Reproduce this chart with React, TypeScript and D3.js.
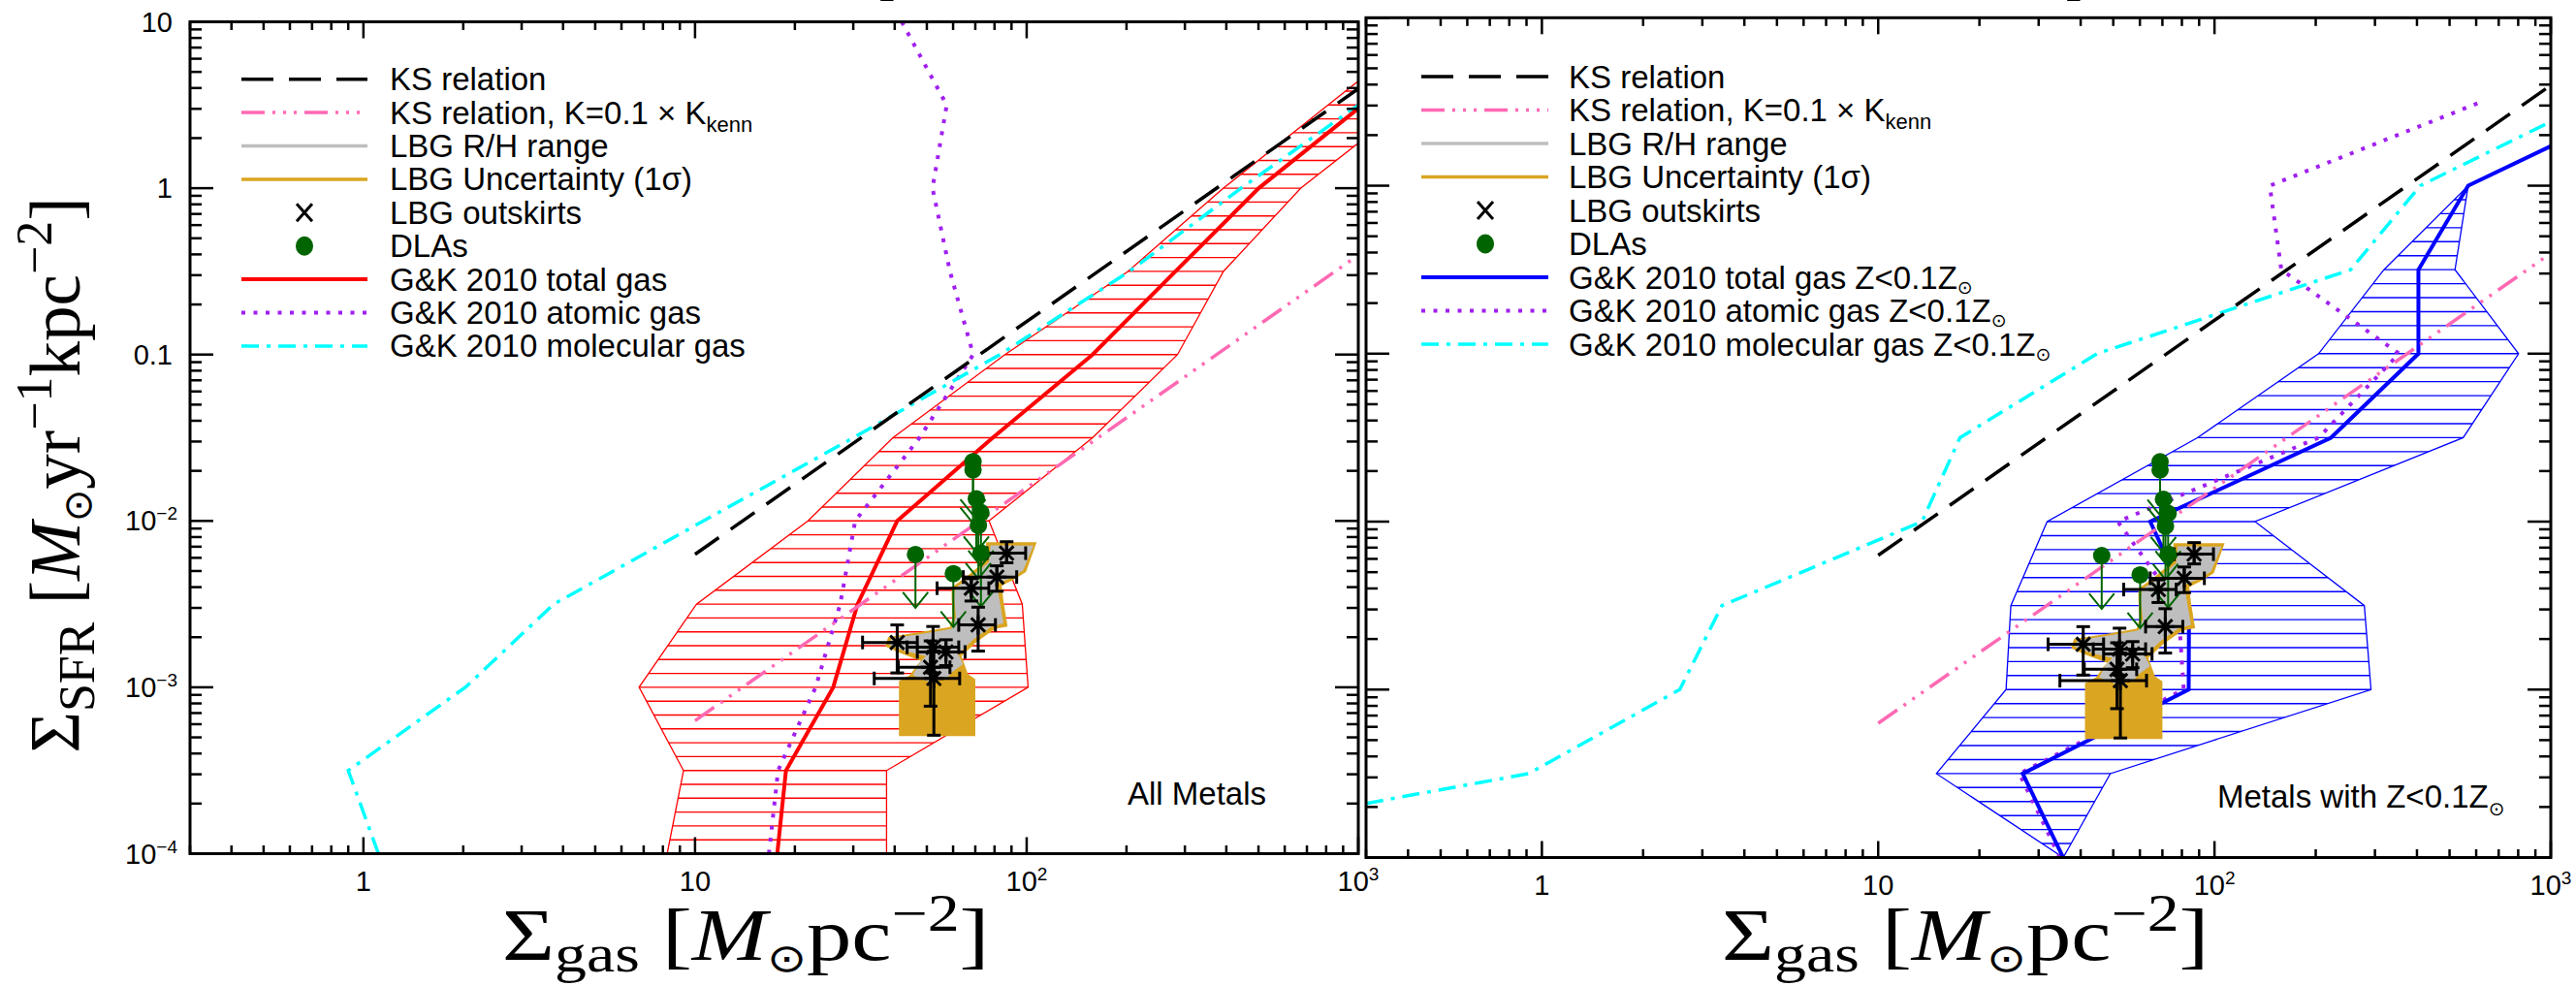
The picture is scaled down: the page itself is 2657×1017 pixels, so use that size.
import React from "react";
import * as d3 from "d3";

// ---------- axes ----------
const gasDomain: [number, number] = [0.3, 1000];
const sfrDomain: [number, number] = [1e-4, 10];
const gasTickValues = [1, 10, 100, 1000];
const gasTickText = ["1", "10", "10", "10"];
const gasTickExp = ["", "", "2", "3"];
const sfrTickValues = [1e-4, 1e-3, 1e-2, 0.1, 1, 10];
const sfrTickText = ["10", "10", "10", "0.1", "1", "10"];
const sfrTickExp = ["−4", "−3", "−2", "", "", ""];

// ---------- Kennicutt–Schmidt relation (end points) ----------
const ksGas = [10, 1000];
const ksSfr = [6.3e-3, 3.96];
const ksSfrTenth = [6.3e-4, 0.396];

// ---------- Gnedin & Kravtsov 2010 models, all metallicities ----------
const gkSfrSteps = [1e-4, 3.16e-4, 1e-3, 3.16e-3, 1e-2, 3.16e-2, 0.1, 0.316, 1, 3.16, 10];
const allTotalGas = [17.7, 18.8, 26.1, 30.9, 40.7, 79, 158, 281, 501, 1030];
const allAtomicGas = [16.7, 17.8, 23.1, 27.4, 30.4, 47.5, 69, 58.7, 52, 57.4, 42];
const allMolecularGas = [1.11, 0.9, 2.03, 3.75, 10.6, 30, 83, 204, 443, 1000];
const allRangeLow = [8.24, 9.23, 6.78, 10.1, 21.9, 39.5, 86, 202, 392, 811, 1680];
const allRangeHigh = [37.8, 37.8, 101, 97, 77, 158, 285, 392, 671, 1400, 2500];

// ---------- Gnedin & Kravtsov 2010 models, Z < 0.1 Zsun ----------
const lowTotalGas = [35.5, 26.9, 83.8, 84, 64.4, 222, 404, 404, 568, 1890];
const lowAtomicGas = [34.7, 26.3, 81, 78, 51.6, 204, 354, 158, 146, 622];
const lowMolecularGas = [0.3, 0.914, 2.57, 3.43, 13.5, 17.5, 44.8, 254, 409, 1320];
const lowMolecularSfr = [2.1e-4, 3.16e-4, 1e-3, 3.16e-3, 1e-2, 3.16e-2, 0.1, 0.316, 1, 3.16];
const lowRangeLow = [35.5, 14.9, 24.0, 24.8, 31.8, 89, 204, 319, 568];
const lowRangeHigh = [35.5, 49, 292, 279, 132, 549, 802, 519, 568];

// ---------- LBG outskirts ----------
const lbgGas = [87.0, 81.3, 68.1, 71.4, 40.7, 52.2, 57.1, 51.3, 52.5];
const lbgSfr = [6.4e-3, 4.6e-3, 3.94e-3, 2.37e-3, 1.86e-3, 1.74e-3, 1.63e-3, 1.32e-3, 1.13e-3];
const lbgGasLo = [75.9, 64.4, 53.7, 62.4, 32.0, 43.6, 46.8, 41.0, 34.7];
const lbgGasHi = [99.3, 93.3, 76.9, 80.5, 46.8, 62.4, 65.2, 58.7, 62.8];
const lbgSfrLo = [5.6e-3, 3.78e-3, 3.3e-3, 1.65e-3, 1.22e-3, 1.22e-3, 1.35e-3, 7.7e-4, 5.15e-4];
const lbgSfrHi = [7.5e-3, 5.37e-3, 4.5e-3, 3.03e-3, 2.37e-3, 2.32e-3, 1.93e-3, 1.9e-3, 1.65e-3];

// LBG R/H range (outline)
const rhGas = [77.8, 104.8, 97.6, 89.0, 81.4, 82.3, 85.1, 77.8, 68.8, 62.1, 64.3, 59.4, 57.4, 50.8, 45.4, 47.5, 49.7, 42.9, 38.4, 39.2, 49.6, 59.4, 61.2, 60.4, 60.8, 68.0, 76.9];
const rhSfr = [7.12e-3, 7.11e-3, 5.04e-3, 4.51e-3, 4.21e-3, 3.6e-3, 2.43e-3, 2.3e-3, 1.93e-3, 1.58e-3, 1.38e-3, 1.23e-3, 1.13e-3, 1.08e-3, 1.18e-3, 1.41e-3, 1.54e-3, 1.65e-3, 1.8e-3, 1.97e-3, 2.11e-3, 2.25e-3, 2.63e-3, 3.44e-3, 3.94e-3, 4.61e-3, 5.64e-3];

// LBG 1-sigma uncertainty (outline)
const sigGas = [75.5, 107.2, 99.5, 91.0, 84.1, 85.1, 87.6, 80.4, 70.3, 63.6, 66.5, 70.0, 70.0, 41.2, 41.2, 44.4, 47.0, 48.0, 41.5, 37.5, 38.2, 48.0, 58.7, 59.8, 59.4, 59.4, 66.5, 75.2];
const sigSfr = [7.44e-3, 7.44e-3, 4.93e-3, 4.41e-3, 4.08e-3, 3.3e-3, 2.32e-3, 2.25e-3, 1.86e-3, 1.54e-3, 1.2e-3, 1.12e-3, 5.08e-4, 5.08e-4, 1.09e-3, 1.18e-3, 1.38e-3, 1.44e-3, 1.61e-3, 1.76e-3, 2.0e-3, 2.15e-3, 2.3e-3, 2.63e-3, 3.44e-3, 3.98e-3, 4.71e-3, 5.77e-3];

// ---------- DLA upper limits ----------
const dlaGas = [68.9, 68.9, 70.5, 72.8, 71.5, 72.8, 46.2, 60.1];
const dlaSfr = [2.27e-2, 2.03e-2, 1.36e-2, 1.12e-2, 9.4e-3, 6.4e-3, 6.28e-3, 4.82e-3];

// ---------- styles ----------
const sans = "'Liberation Sans', Arial, Helvetica, sans-serif";
const serif = "'Liberation Serif', 'Times New Roman', serif";
const C = {
  ks: "#000000",
  ksTenth: "#FF69B4",
  rh: "#BEBEBE",
  sigma: "#DAA520",
  dla: "#006400",
  red: "#FF0000",
  blue: "#0000FF",
  atomic: "#A020F0",
  molecular: "#00FFFF",
};
const DASH = {
  ks: "30,15",
  ksTenth: "24,8,3,8,3,8,3,8",
  atomic: "4,8.5",
  molecular: "18,8,4,8",
};

type Frame = { x0: number; x1: number; y0: number; y1: number };
type Legend = { lx0: number; lx1: number; tx: number; mx: number; ry: number; step: number };

interface PanelProps {
  id: string;
  frame: Frame;
  legend: Legend;
  total: number[];
  totalSfr: number[];
  atomic: number[];
  atomicSfr: number[];
  molecular: number[];
  molecularSfr: number[];
  rangeLo: number[];
  rangeHi: number[];
  bandColor: string;
  suffix: boolean;
  note: React.ReactNode;
  showYLabels: boolean;
  xLabelDy: number;
}

function isMajor(v: number) {
  const l = Math.log10(v);
  return Math.abs(l - Math.round(l)) < 1e-6;
}

function Panel(p: PanelProps) {
  const { frame: f } = p;
  const x = d3.scaleLog().domain(gasDomain).range([f.x0, f.x1]);
  const y = d3.scaleLog().domain(sfrDomain).range([f.y1, f.y0]);
  const line = d3
    .line<[number, number]>()
    .x((d) => x(d[0]))
    .y((d) => y(d[1]));
  const zip = (a: number[], b: number[]) => a.map((v, i) => [v, b[i]] as [number, number]);

  const band: [number, number][] = [
    ...zip(p.rangeLo, gkSfrSteps.slice(0, p.rangeLo.length)),
    ...zip(p.rangeHi, gkSfrSteps.slice(0, p.rangeHi.length)).reverse(),
  ];
  const hatchLevels = d3.range(0, 61).map((k) => Math.pow(10, -4 + k / 12));
  const clipId = `plot-${p.id}`;
  const bandId = `band-${p.id}`;

  const xTicks = x.ticks();
  const yTicks = y.ticks();
  const lg = p.legend;
  const rowY = (i: number) => lg.ry + i * lg.step;
  const lgText = (i: number, content: React.ReactNode) => (
    <text x={lg.tx} y={rowY(i) + 11.5} fontFamily={sans} fontSize={33} fill="#000">
      {content}
    </text>
  );
  const sunSub = (
    <tspan fontSize={19} dy={5} fontFamily="'DejaVu Sans', sans-serif">
      ⊙
    </tspan>
  );
  const arrowLen = 55;

  return (
    <g>
      <defs>
        <clipPath id={clipId}>
          <rect x={f.x0} y={f.y0} width={f.x1 - f.x0} height={f.y1 - f.y0} />
        </clipPath>
        <clipPath id={bandId}>
          <path d={line(band) + "Z"} />
        </clipPath>
      </defs>

      <g clipPath={`url(#${clipId})`}>
        {/* model range, hatched */}
        <g clipPath={`url(#${bandId})`}>
          {hatchLevels.map((v, i) => (
            <line key={i} x1={f.x0} x2={f.x1} y1={y(v)} y2={y(v)} stroke={p.bandColor} strokeWidth={1.4} />
          ))}
        </g>
        <path d={line(band) + "Z"} fill="none" stroke={p.bandColor} strokeWidth={1.3} />

        {/* model curves */}
        <path d={line(zip(p.atomic, p.atomicSfr)) || ""} fill="none" stroke={C.atomic} strokeWidth={4} strokeDasharray={DASH.atomic} />
        <path d={line(zip(p.molecular, p.molecularSfr)) || ""} fill="none" stroke={C.molecular} strokeWidth={3.5} strokeDasharray={DASH.molecular} />
        <path d={line(zip(p.total, p.totalSfr)) || ""} fill="none" stroke={p.bandColor} strokeWidth={4} />

        {/* KS relations */}
        <path d={line(zip(ksGas, ksSfr)) || ""} fill="none" stroke={C.ks} strokeWidth={3.5} strokeDasharray={DASH.ks} />
        <path d={line(zip(ksGas, ksSfrTenth)) || ""} fill="none" stroke={C.ksTenth} strokeWidth={3.5} strokeDasharray={DASH.ksTenth} />

        {/* LBG uncertainty and R/H range */}
        <path d={line(zip(sigGas, sigSfr)) + "Z"} fill={C.sigma} stroke="none" />
        <path d={line(zip(rhGas, rhSfr)) + "Z"} fill={C.rh} stroke="none" />

        {/* DLA limit arrows */}
        {dlaGas.map((g, i) => {
          const cx = x(g);
          const cy = y(dlaSfr[i]);
          const ty = cy + arrowLen;
          return (
            <g key={"a" + i} stroke={C.dla} strokeWidth={2} fill="none">
              <line x1={cx} x2={cx} y1={cy} y2={ty} />
              <polyline points={`${cx - 13},${ty - 16} ${cx},${ty} ${cx + 13},${ty - 16}`} />
            </g>
          );
        })}

        {/* LBG outskirts with error bars */}
        {lbgGas.map((g, i) => {
          const cx = x(g);
          const cy = y(lbgSfr[i]);
          const xl = x(lbgGasLo[i]);
          const xh = x(lbgGasHi[i]);
          const yl = y(lbgSfrLo[i]);
          const yh = y(lbgSfrHi[i]);
          const cap = 7;
          const r = 10;
          const d = r * 0.72;
          return (
            <g key={"l" + i} stroke="#000" strokeWidth={3} fill="none">
              <line x1={xl} x2={xh} y1={cy} y2={cy} />
              <line x1={xl} x2={xl} y1={cy - cap} y2={cy + cap} />
              <line x1={xh} x2={xh} y1={cy - cap} y2={cy + cap} />
              <line x1={cx} x2={cx} y1={yh} y2={yl} />
              <line x1={cx - cap} x2={cx + cap} y1={yh} y2={yh} />
              <line x1={cx - cap} x2={cx + cap} y1={yl} y2={yl} />
              <line x1={cx - r} x2={cx + r} y1={cy} y2={cy} />
              <line x1={cx} x2={cx} y1={cy - r} y2={cy + r} />
              <line x1={cx - d} x2={cx + d} y1={cy - d} y2={cy + d} />
              <line x1={cx - d} x2={cx + d} y1={cy + d} y2={cy - d} />
            </g>
          );
        })}

        {/* DLA markers */}
        {dlaGas.map((g, i) => (
          <circle key={"d" + i} cx={x(g)} cy={y(dlaSfr[i])} r={9} fill={C.dla} />
        ))}
      </g>

      {/* ticks */}
      <g stroke="#000" strokeWidth={2.5}>
        {xTicks.map((v, i) => {
          const len = isMajor(v) ? 17 : 8.5;
          const X = x(v);
          return (
            <g key={"xt" + i}>
              <line x1={X} x2={X} y1={f.y1} y2={f.y1 - len} />
              <line x1={X} x2={X} y1={f.y0} y2={f.y0 + len} />
            </g>
          );
        })}
        {yTicks.map((v, i) => {
          const len = isMajor(v) ? 24 : 12;
          const Y = y(v);
          return (
            <g key={"yt" + i}>
              <line x1={f.x0} x2={f.x0 + len} y1={Y} y2={Y} />
              <line x1={f.x1} x2={f.x1 - len} y1={Y} y2={Y} />
            </g>
          );
        })}
      </g>
      <rect x={f.x0} y={f.y0} width={f.x1 - f.x0} height={f.y1 - f.y0} fill="none" stroke="#000" strokeWidth={3} />

      {/* tick labels */}
      {gasTickValues.map((v, i) => (
        <text key={"xl" + i} x={x(v)} y={f.y1 + p.xLabelDy} textAnchor="middle" fontFamily={sans} fontSize={29}>
          {gasTickText[i]}
          {gasTickExp[i] && (
            <tspan fontSize={19} dy={-11}>
              {gasTickExp[i]}
            </tspan>
          )}
        </text>
      ))}
      {p.showYLabels &&
        sfrTickValues.map((v, i) => (
          <text key={"yl" + i} x={f.x0 - (sfrTickExp[i] ? 13 : 18)} y={y(v) + 10} textAnchor="end" fontFamily={sans} fontSize={29}>
            {sfrTickText[i]}
            {sfrTickExp[i] && (
              <tspan fontSize={19} dy={-11}>
                {sfrTickExp[i]}
              </tspan>
            )}
          </text>
        ))}

      {/* legend */}
      <g>
        <line x1={lg.lx0} x2={lg.lx1} y1={rowY(0)} y2={rowY(0)} stroke={C.ks} strokeWidth={3.5} strokeDasharray="33,16" />
        <line x1={lg.lx0} x2={lg.lx1} y1={rowY(1)} y2={rowY(1)} stroke={C.ksTenth} strokeWidth={3.5} strokeDasharray={DASH.ksTenth} />
        <line x1={lg.lx0} x2={lg.lx1} y1={rowY(2)} y2={rowY(2)} stroke={C.rh} strokeWidth={3.5} />
        <line x1={lg.lx0} x2={lg.lx1} y1={rowY(3)} y2={rowY(3)} stroke={C.sigma} strokeWidth={3.5} />
        <g stroke="#000" strokeWidth={3}>
          <line x1={lg.mx - 8} x2={lg.mx + 8} y1={rowY(4) - 9} y2={rowY(4) + 9} />
          <line x1={lg.mx - 8} x2={lg.mx + 8} y1={rowY(4) + 9} y2={rowY(4) - 9} />
        </g>
        <ellipse cx={lg.mx} cy={rowY(5)} rx={9} ry={10} fill={C.dla} />
        <line x1={lg.lx0} x2={lg.lx1} y1={rowY(6)} y2={rowY(6)} stroke={p.bandColor} strokeWidth={4} />
        <line x1={lg.lx0} x2={lg.lx1} y1={rowY(7)} y2={rowY(7)} stroke={C.atomic} strokeWidth={4} strokeDasharray={DASH.atomic} />
        <line x1={lg.lx0} x2={lg.lx1} y1={rowY(8)} y2={rowY(8)} stroke={C.molecular} strokeWidth={3.5} strokeDasharray={DASH.molecular} />

        {lgText(0, "KS relation")}
        {lgText(
          1,
          <>
            KS relation, K=0.1 × K
            <tspan fontSize={22} dy={8}>
              kenn
            </tspan>
          </>
        )}
        {lgText(2, "LBG R/H range")}
        {lgText(3, "LBG Uncertainty (1σ)")}
        {lgText(4, "LBG outskirts")}
        {lgText(5, "DLAs")}
        {lgText(6, p.suffix ? <>G&amp;K 2010 total gas Z&lt;0.1Z{sunSub}</> : "G&K 2010 total gas")}
        {lgText(7, p.suffix ? <>G&amp;K 2010 atomic gas Z&lt;0.1Z{sunSub}</> : "G&K 2010 atomic gas")}
        {lgText(8, p.suffix ? <>G&amp;K 2010 molecular gas Z&lt;0.1Z{sunSub}</> : "G&K 2010 molecular gas")}
      </g>

      {p.note}
    </g>
  );
}

function GasTitle({ x0, y0 }: { x0: number; y0: number }) {
  return (
    <g transform={`translate(${x0},${y0}) scale(1.22,1)`}>
      <text x={0} y={0} fontFamily={serif} fontSize={76} fill="#000">
        Σ
        <tspan fontSize={54} dy={12}>
          gas
        </tspan>
        <tspan dy={-12}> [</tspan>
        <tspan fontStyle="italic">M</tspan>
        <tspan fontSize={40} dy={12} fontFamily="'DejaVu Sans', sans-serif">
          ⊙
        </tspan>
        <tspan dy={-12}>pc</tspan>
        <tspan fontSize={54} dy={-30}>
          −2
        </tspan>
        <tspan dy={30}>]</tspan>
      </text>
    </g>
  );
}

export default function App() {
  const leftFrame: Frame = { x0: 196, x1: 1401, y0: 22.5, y1: 880.5 };
  const rightFrame: Frame = { x0: 1409, x1: 2631, y0: 18.3, y1: 884.5 };
  return (
    <svg
      width={2657}
      height={1017}
      viewBox="0 0 2657 1017"
      style={{ position: "absolute", left: 0, top: 0, background: "#fff" }}
    >
      <rect x={0} y={0} width={2657} height={1017} fill="#fff" />

      {/* bottom edges of the panel headings above the frame */}
      <text x={906} y={-7} fontFamily={serif} fontSize={60} fill="#000">]</text>
      <text x={2130} y={-7} fontFamily={serif} fontSize={60} fill="#000">]</text>

      <Panel
        id="all"
        frame={leftFrame}
        legend={{ lx0: 249, lx1: 379, tx: 402, mx: 314, ry: 81.7, step: 34.4 }}
        total={allTotalGas}
        totalSfr={gkSfrSteps}
        atomic={allAtomicGas}
        atomicSfr={gkSfrSteps}
        molecular={allMolecularGas}
        molecularSfr={gkSfrSteps}
        rangeLo={allRangeLow}
        rangeHi={allRangeHigh}
        bandColor={C.red}
        suffix={false}
        showYLabels={true}
        xLabelDy={38}
        note={
          <text x={1163} y={830} fontFamily={sans} fontSize={33}>
            All Metals
          </text>
        }
      />
      <Panel
        id="low"
        frame={rightFrame}
        legend={{ lx0: 1466, lx1: 1597, tx: 1618, mx: 1532, ry: 79, step: 34.5 }}
        total={lowTotalGas}
        totalSfr={gkSfrSteps}
        atomic={lowAtomicGas}
        atomicSfr={gkSfrSteps}
        molecular={lowMolecularGas}
        molecularSfr={lowMolecularSfr}
        rangeLo={lowRangeLow}
        rangeHi={lowRangeHigh}
        bandColor={C.blue}
        suffix={true}
        showYLabels={false}
        xLabelDy={38}
        note={
          <text x={2287} y={833} fontFamily={sans} fontSize={33}>
            Metals with Z&lt;0.1Z
            <tspan fontSize={20} dy={8} fontFamily="'DejaVu Sans', sans-serif">
              ⊙
            </tspan>
          </text>
        }
      />

      {/* axis titles */}
      <GasTitle x0={518} y0={990} />
      <GasTitle x0={1776} y0={990} />
      <text transform="translate(82,490) rotate(-90)" textAnchor="middle" fontFamily={serif} fontSize={73} fill="#000">
        Σ
        <tspan fontSize={52} dy={15}>
          SFR
        </tspan>
        <tspan dy={-15}> [</tspan>
        <tspan fontStyle="italic">M</tspan>
        <tspan fontSize={40} dy={12} fontFamily="'DejaVu Sans', sans-serif">
          ⊙
        </tspan>
        <tspan dy={-12}>yr</tspan>
        <tspan fontSize={52} dy={-29}>
          −1
        </tspan>
        <tspan dy={29}>kpc</tspan>
        <tspan fontSize={52} dy={-29}>
          −2
        </tspan>
        <tspan dy={29}>]</tspan>
      </text>
    </svg>
  );
}
